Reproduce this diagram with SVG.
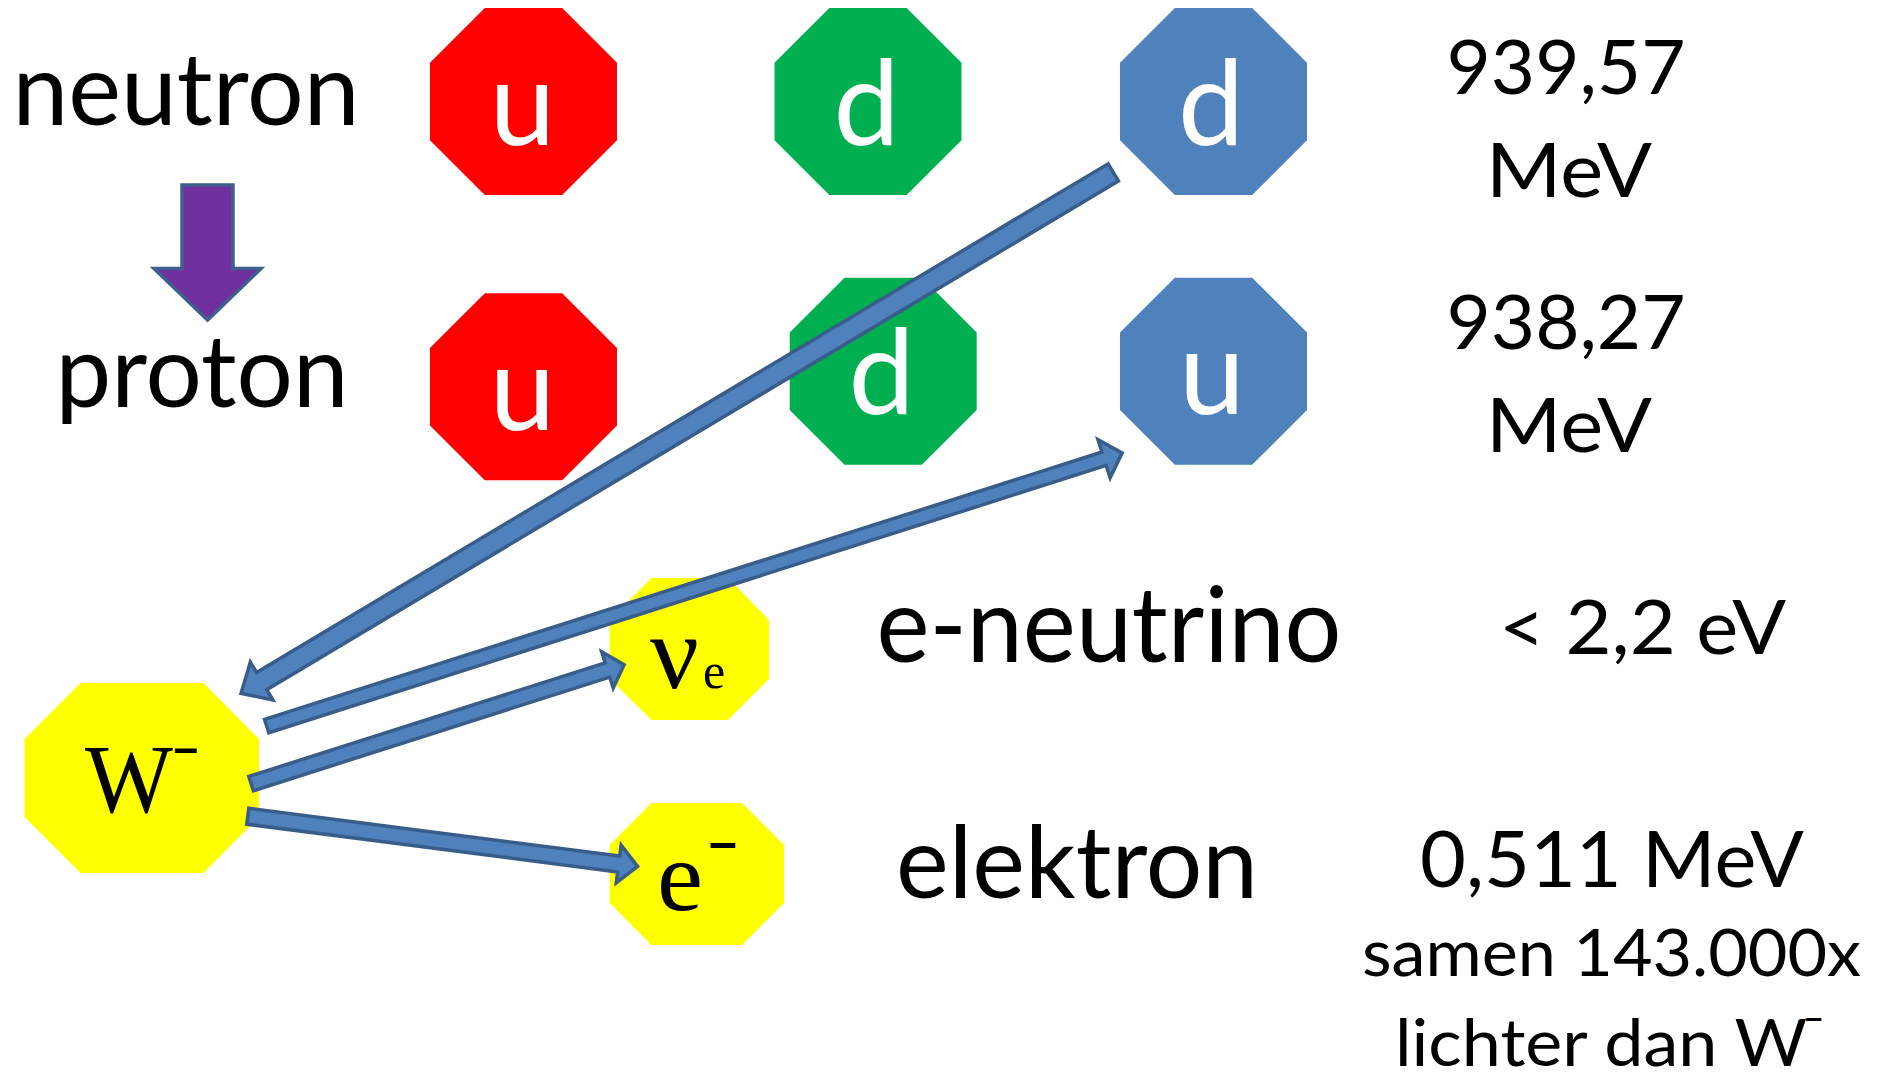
<svg xmlns="http://www.w3.org/2000/svg" width="1883" height="1079" viewBox="0 0 1883 1079">
<style>
.q{font-family:Lato,"Liberation Sans",sans-serif;font-size:118px;fill:#fff;text-anchor:middle}
.lbl{font-family:Lato,"Liberation Sans",sans-serif;fill:#000;text-anchor:middle}
.lbs{font-family:Lato,"Liberation Sans",sans-serif;fill:#000;text-anchor:start}
.sym{font-family:"Liberation Serif","DejaVu Serif",serif;fill:#000}
.dash{font-family:"Liberation Sans",Arial,sans-serif;font-weight:bold;fill:#000}
.arr{fill:#4F81BD;stroke:#385D8A;stroke-width:3.5;stroke-linejoin:miter}
.red{fill:#FF0000}.green{fill:#00B050}.blue{fill:#4F81BD}.yellow{fill:#FFFF00}
</style>
<defs>
<polygon id="oct" points="54.8,0 132.2,0 187,54.8 187,132.2 132.2,187 54.8,187 0,132.2 0,54.8"/>
</defs>
<rect width="1883" height="1079" fill="#fff"/>

<g id="label-neutron"><text class="lbl" x="186" y="125" font-size="100" textLength="347" lengthAdjust="spacingAndGlyphs">neutron</text></g>
<g id="label-proton"><text class="lbl" x="202" y="407" font-size="100" textLength="293" lengthAdjust="spacingAndGlyphs">proton</text></g>
<g id="decay-arrow"><path d="M182,185 H233 V268.5 H261 L207.6,320 L154,268.5 H182 Z" fill="#7030A0" stroke="#3F5F8E" stroke-width="3.5"/></g>

<g id="n-u"><use href="#oct" class="red" x="430" y="8"/><text class="q" x="522.5" y="144.5">u</text></g>
<g id="n-d1"><use href="#oct" class="green" x="774.5" y="8"/><text class="q" x="866.5" y="145">d</text></g>
<g id="n-d2"><use href="#oct" class="blue" x="1120" y="8"/><text class="q" x="1211" y="145">d</text></g>
<g id="p-u1"><use href="#oct" class="red" x="430" y="293.3"/><text class="q" x="522.5" y="430">u</text></g>
<g id="p-d"><use href="#oct" class="green" x="789.7" y="277.7"/><text class="q" x="881.5" y="414.3">d</text></g>
<g id="p-u2"><use href="#oct" class="blue" x="1120" y="277.7"/><text class="q" x="1212" y="414.3">u</text></g>

<g id="mass-neutron"><text class="lbl" x="1566" y="94" font-size="76" textLength="239" lengthAdjust="spacingAndGlyphs">939,57</text><text class="lbl" x="1569" y="197" font-size="76" textLength="166" lengthAdjust="spacingAndGlyphs">MeV</text></g>
<g id="mass-proton"><text class="lbl" x="1566" y="349" font-size="76" textLength="239" lengthAdjust="spacingAndGlyphs">938,27</text><text class="lbl" x="1569" y="452" font-size="76" textLength="166" lengthAdjust="spacingAndGlyphs">MeV</text></g>

<g id="w-boson"><polygon class="yellow" points="80.5,683 203.5,683 259,739 259,817 203.5,873 80.5,873 24.5,817 24.5,739"/><text class="sym" x="85" y="811.7"><tspan font-size="98" textLength="88" lengthAdjust="spacingAndGlyphs">W</tspan><tspan class="dash" x="173.5" y="763" font-size="44">–</tspan></text></g>
<g id="neutrino"><polygon class="yellow" points="651.5,578 728,578 769,620 769,679 728,720 651.5,720 609.7,679 609.7,620"/><text class="sym" x="650" y="688"><tspan font-size="106" textLength="49" lengthAdjust="spacingAndGlyphs">ν</tspan><tspan x="703" y="688" font-size="50">e</tspan></text></g>
<g id="electron"><polygon class="yellow" points="651.5,803 742,803 784,845 784,903 742,945 651.5,945 609.7,903 609.7,845"/><text class="sym" x="657" y="910"><tspan font-size="100" textLength="46" lengthAdjust="spacingAndGlyphs">e</tspan><tspan class="dash" x="709" y="858.5" font-size="50">–</tspan></text></g>

<g id="label-neutrino"><text class="lbl" x="1109" y="662" font-size="105" textLength="465" lengthAdjust="spacingAndGlyphs">e-neutrino</text></g>
<g id="mass-neutrino"><text class="lbl" x="1642.5" y="654" font-size="76" textLength="287" lengthAdjust="spacingAndGlyphs">&lt; 2,2 eV</text></g>
<g id="label-electron"><text class="lbl" x="1077" y="898" font-size="100" textLength="362" lengthAdjust="spacingAndGlyphs">elektron</text></g>
<g id="mass-electron"><text class="lbl" x="1612" y="887" font-size="77" textLength="384" lengthAdjust="spacingAndGlyphs">0,511 MeV</text><text class="lbl" x="1611.5" y="976" font-size="65" textLength="499" lengthAdjust="spacingAndGlyphs">samen 143.000x</text><text class="lbs" x="1395" y="1066" font-size="65"><tspan textLength="412" lengthAdjust="spacingAndGlyphs">lichter dan W</tspan><tspan class="dash" x="1805" y="1027.7" font-size="31">–</tspan></text></g>

<g id="connectors">
<path class="arr" transform="translate(1115,171.35) rotate(149.15)" d="M2,-10 L994,-10 L994,-22 L1018,0 L994,22 L994,10 L2,10 Z"/>
<path class="arr" transform="translate(264.8,726.7) rotate(-17.71)" d="M2,-7 L881,-7 L881,-20 L900,0 L881,20 L881,7 L2,7 Z"/>
<path class="arr" transform="translate(249.2,784.2) rotate(-17.69)" d="M2,-7.5 L376,-7.5 L376,-19 L393.5,0 L376,19 L376,7.5 L2,7.5 Z"/>
<path class="arr" transform="translate(245.8,816) rotate(7.34)" d="M2,-8 L376,-8 L376,-19 L395,0 L376,19 L376,8 L2,8 Z"/>
</g>
</svg>
